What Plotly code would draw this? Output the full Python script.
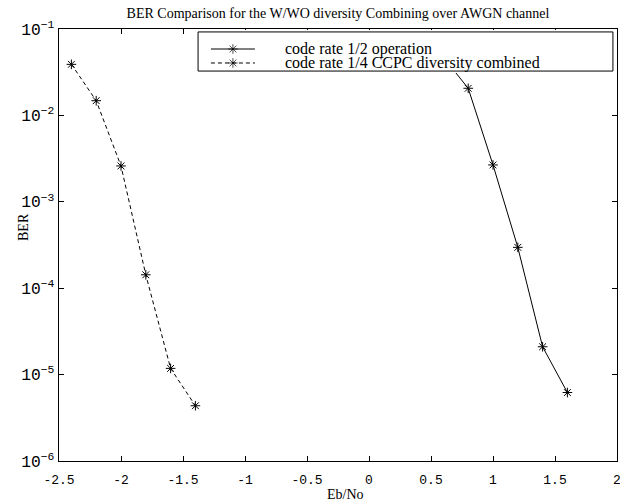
import plotly.graph_objects as go

# ---- data ----
eb_no_half = [0.6, 0.8, 1.0, 1.2, 1.4, 1.6]
ber_half = [0.047, 0.0206, 0.00267, 2.97e-4, 2.1e-5, 6.2e-6]

eb_no_quarter = [-2.4, -2.2, -2.0, -1.8, -1.6, -1.4]
ber_quarter = [0.039, 0.0148, 0.0026, 1.43e-4, 1.18e-5, 4.36e-6]

series_names = ["code rate 1/2 operation", "code rate 1/4 CCPC diversity combined"]
x_tick_vals = [-2.5, -2, -1.5, -1, -0.5, 0, 0.5, 1, 1.5, 2]
x_tick_text = ["-2.5", "-2", "-1.5", "-1", "-0.5", "0", "0.5", "1", "1.5", "2"]

title_text = "BER Comparison for the W/WO diversity Combining over AWGN channel"
x_title = "Eb/No"
y_title = "BER"

# ---- layout geometry (pixels) ----
W, H = 620, 504
L, R, T, B = 59, 617, 29, 461


def px_x(p):
    return (p - L) / (R - L)


def px_y(p):
    return (B - p) / (B - T)


serif = "Liberation Serif, Times New Roman, serif"
mono = "Liberation Mono, DejaVu Sans Mono, monospace"

fig = go.Figure()

fig.add_trace(go.Scatter(
    x=eb_no_half, y=ber_half, mode="lines+markers", name=series_names[0],
    line=dict(color="black", width=1),
    marker=dict(symbol="asterisk-open", size=8, color="black", line=dict(width=1, color="black")),
    showlegend=False,
))
fig.add_trace(go.Scatter(
    x=eb_no_quarter, y=ber_quarter, mode="lines+markers", name=series_names[1],
    line=dict(color="black", width=1, dash="4px,3px"),
    marker=dict(symbol="asterisk-open", size=8, color="black", line=dict(width=1, color="black")),
    showlegend=False,
))

# ---- hand-drawn legend on an overlay subplot ----
fig.add_trace(go.Scatter(
    x=[0, 1, 1, 0, 0], y=[0, 0, 1, 1, 0], mode="lines", fill="toself",
    fillcolor="white", line=dict(color="black", width=1),
    xaxis="x2", yaxis="y2", showlegend=False, hoverinfo="skip",
))
row_y = [0.564, 0.206]
dashes = ["solid", "4px,3px"]
for ry, dsh in zip(row_y, dashes):
    fig.add_trace(go.Scatter(
        x=[0.031, 0.084, 0.137], y=[ry, ry, ry], mode="lines+markers",
        line=dict(color="black", width=1, dash=dsh),
        marker=dict(symbol="asterisk-open", size=[0, 8, 0], color="black",
                    line=dict(width=1, color="black")),
        xaxis="x2", yaxis="y2", showlegend=False, hoverinfo="skip",
    ))

annotations = []
for ry, name in zip(row_y, series_names):
    annotations.append(dict(
        x=0.205, y=ry, xref="x2", yref="y2", text=name, showarrow=False,
        xanchor="left", yanchor="middle", font=dict(family=serif, size=16, color="black"),
    ))

annotations.append(dict(
    x=px_x(345), y=px_y(494), xref="paper", yref="paper", text=x_title, showarrow=False,
    xanchor="center", yanchor="middle", font=dict(family=serif, size=14, color="black"),
))
annotations.append(dict(
    x=px_x(23), y=px_y(227), xref="paper", yref="paper", text=y_title, showarrow=False,
    textangle=-90, xanchor="center", yanchor="middle",
    font=dict(family=serif, size=14, color="black"),
))

axis_common = dict(
    showline=True, linecolor="black", linewidth=1, mirror="ticks",
    ticks="inside", ticklen=5, tickwidth=1, tickcolor="black",
    showgrid=False, zeroline=False, automargin=False, ticklabeloverflow="allow",
)

fig.update_layout(
    width=W, height=H,
    margin=dict(l=L, r=W - R, t=T, b=H - B, autoexpand=False),
    paper_bgcolor="white", plot_bgcolor="white",
    title=dict(text=title_text, x=338 / W, xanchor="center", y=1 - 13 / H, yanchor="middle",
               font=dict(family=serif, size=14, color="black")),
    xaxis=dict(range=[-2.5, 2], tickvals=x_tick_vals, ticktext=x_tick_text,
               tickfont=dict(family=mono, size=13, color="black"),
               ticklabelstandoff=6, **axis_common),
    yaxis=dict(type="log", range=[-6, -1], dtick=1, exponentformat="power",
               tickfont=dict(family=mono, size=13, color="black"),
               ticklabelstandoff=1, **axis_common),
    xaxis2=dict(domain=[px_x(196), px_x(615)], range=[-0.005, 1.005], anchor="y2",
                visible=False, fixedrange=True),
    yaxis2=dict(domain=[px_y(73), px_y(30)], range=[-0.05, 1.05], anchor="x2",
                visible=False, fixedrange=True),
    annotations=annotations,
    showlegend=False,
)

fig.write_html("out.html")
